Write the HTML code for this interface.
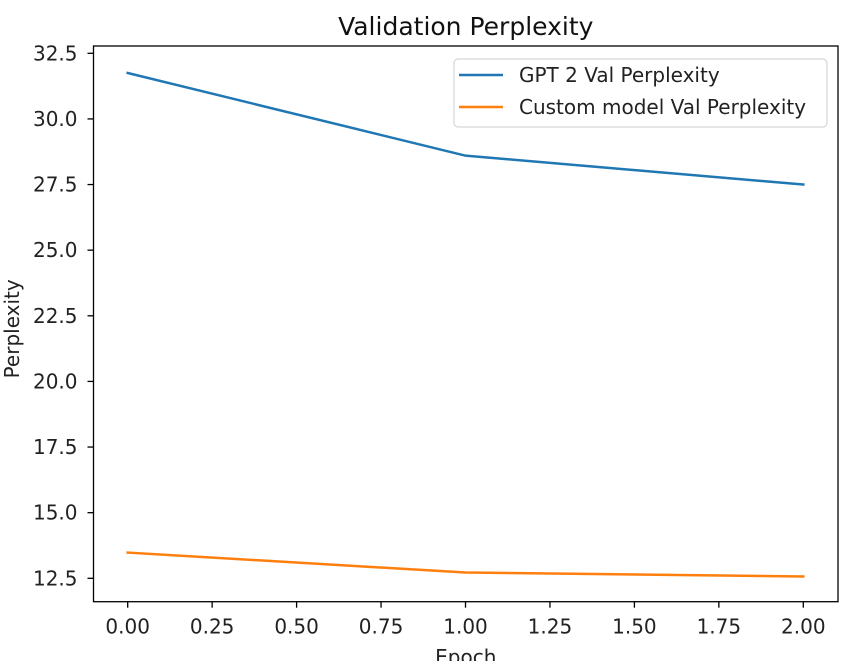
<!DOCTYPE html>
<html><head><meta charset="utf-8"><style>
body{margin:0;background:#fff;}
svg{display:block;font-family:"DejaVu Sans","Liberation Sans",sans-serif;}
</style></head><body>
<svg id="chart" width="861" height="661" xmlns="http://www.w3.org/2000/svg">
<rect width="861" height="661" fill="#fff"/>
<g id="axes"></g>
</svg>
<script>
const epochs = [0, 1, 2];
const gptVals = [31.75, 28.6, 27.5];
const customVals = [13.48, 12.72, 12.57];
const xTicks = [0, 0.25, 0.5, 0.75, 1.0, 1.25, 1.5, 1.75, 2.0];
const xTickLabels = ["0.00","0.25","0.50","0.75","1.00","1.25","1.50","1.75","2.00"];
const yTicks = [12.5, 15, 17.5, 20, 22.5, 25, 27.5, 30, 32.5];
const yTickLabels = ["12.5","15.0","17.5","20.0","22.5","25.0","27.5","30.0","32.5"];

const L=93.5,R=838,T=46,B=601.7;
const xs=v=>127.7+v*337.8;
const ys=v=>578.3-(v-12.5)*26.25;
const NS="http://www.w3.org/2000/svg";
const g=document.getElementById('axes');
function mk(tag,attrs,parent){const e=document.createElementNS(NS,tag);for(const k in attrs)e.setAttribute(k,attrs[k]);(parent||g).appendChild(e);return e;}

xTicks.forEach((t,i)=>{
  const l=mk('line',{x1:xs(t),x2:xs(t),y1:B,y2:B+6,stroke:'#000','stroke-width':1.3});
  
  
  const tx=mk('text',{x:xs(t),y:B+32,'text-anchor':'middle','font-size':20,fill:'#222'});
  tx.textContent=xTickLabels[i];
  
  
});
yTicks.forEach((t,i)=>{
  const l=mk('line',{x1:L-6,x2:L,y1:ys(t),y2:ys(t),stroke:'#000','stroke-width':1.3});
  
  
  const tx=mk('text',{x:L-16,y:ys(t)+7,'text-anchor':'end','font-size':20,fill:'#222'});
  tx.textContent=yTickLabels[i];
  
  
});

function series(vals,color,name){
  const p=mk('polyline',{points:epochs.map((e,i)=>xs(e)+','+ys(vals[i])).join(' '),fill:'none',stroke:color,'stroke-width':2.5,'stroke-linecap':'square'});
  
  
}
series(gptVals,'#1f77b4','gpt2-line');
series(customVals,'#ff7f0e','custom-model-line');

const frame=mk('rect',{x:L,y:T,width:R-L,height:B-T,fill:'none',stroke:'#000','stroke-width':1.3});



const title=mk('text',{x:(L+R)/2,y:35,'text-anchor':'middle','font-size':25,fill:'#111'});
title.textContent='Validation Perplexity';



const xt=mk('text',{x:(L+R)/2,y:664,'text-anchor':'middle','font-size':20,fill:'#222'});
xt.textContent='Epoch';



const yt=mk('text',{x:0,y:0,'text-anchor':'middle','font-size':20,fill:'#222',transform:'translate(19,'+((T+B)/2+5)+') rotate(-90)'});
yt.textContent='Perplexity';



const lg=mk('g',{});


mk('rect',{x:454,y:59,width:373,height:68,rx:4,fill:'#fff','fill-opacity':0.8,stroke:'#ccc','stroke-width':1},lg);
[['GPT 2 Val Perplexity','#1f77b4',75],['Custom model Val Perplexity','#ff7f0e',107]].forEach(([t,c,y])=>{
  const e=mk('g',{},lg);
  
  
  mk('line',{x1:459,x2:503,y1:y,y2:y,stroke:c,'stroke-width':2.5},e);
  const tx=mk('text',{x:519,y:y+7,'font-size':20,fill:'#222'},e);
  tx.textContent=t;
});
</script>
</body></html>
